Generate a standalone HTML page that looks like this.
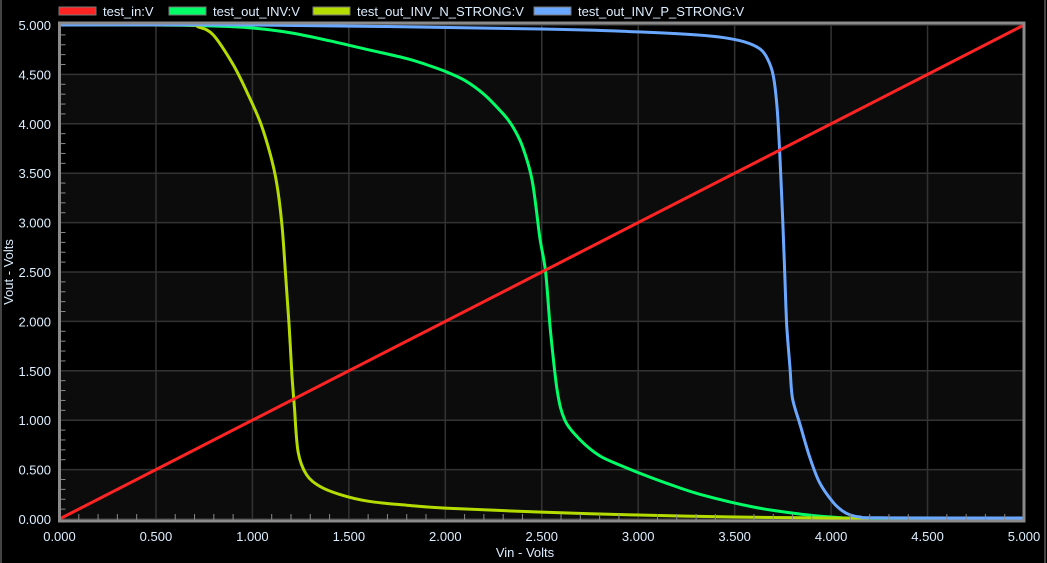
<!DOCTYPE html>
<html><head><meta charset="utf-8"><style>
html,body{margin:0;padding:0;background:#000;}
svg{display:block;font-family:"Liberation Sans",sans-serif;}
</style></head><body>
<svg id="chart" width="1047" height="563" xmlns="http://www.w3.org/2000/svg">
<rect x="0" y="0" width="1047" height="563" fill="#000"/>
<line x1="1" y1="0" x2="1" y2="563" stroke="#444" stroke-width="2"/>
<line x1="1045" y1="0" x2="1045" y2="563" stroke="#444" stroke-width="2"/>
<g id="bands"></g>
<g id="grid"></g>
<g id="series"></g>
<g id="axes"></g>
<g id="legend"></g>
<text x="13" y="272" fill="#dceeff" font-size="13" text-anchor="middle" transform="rotate(-90 13 272)">Vout - Volts</text>
<text x="525" y="557" fill="#dceeff" font-size="13" text-anchor="middle">Vin - Volts</text>
</svg>
<script>
const xTicks=["0.000","0.500","1.000","1.500","2.000","2.500","3.000","3.500","4.000","4.500","5.000"];
const yTicks=["0.000","0.500","1.000","1.500","2.000","2.500","3.000","3.500","4.000","4.500","5.000"];
const seriesNames=["test_in:V","test_out_INV:V","test_out_INV_N_STRONG:V","test_out_INV_P_STRONG:V"];
const seriesColors=["#ff2424","#00ff66","#b4dc00","#6aa8ff"];
const inX=[0,5];
const inY=[0,5];
const invX=[0,0.5,0.8,1.0,1.2,1.4,1.6,1.8,1.9,2.0,2.1,2.2,2.3,2.35,2.4,2.45,2.49,2.52,2.545,2.58,2.62,2.7,2.8,2.9,3.0,3.15,3.32,3.6,3.84,4.0,4.2,5];
const invY=[5,5,4.99,4.97,4.92,4.84,4.75,4.66,4.6,4.53,4.44,4.3,4.1,3.97,3.77,3.43,2.85,2.5,1.91,1.3,1.0,0.8,0.64,0.55,0.47,0.36,0.25,0.12,0.05,0.02,0.005,0];
const nX=[0,0.65,0.72,0.797,0.9,0.972,1.04,1.09,1.125,1.153,1.172,1.19,1.205,1.218,1.237,1.28,1.35,1.45,1.6,1.8,2.0,2.5,3.0,3.5,4.0,4.2];
const nY=[5,5,4.98,4.9,4.6,4.32,4.02,3.71,3.41,2.98,2.47,1.96,1.46,1.12,0.68,0.45,0.33,0.25,0.18,0.14,0.11,0.07,0.04,0.02,0.01,0.005];
const pX=[0,1.0,2.5,3.0,3.3,3.45,3.55,3.63,3.67,3.70,3.72,3.735,3.75,3.76,3.77,3.787,3.80,3.84,3.89,3.94,4.01,4.06,4.1,4.15,4.25,5];
const pY=[5,5,4.96,4.93,4.9,4.87,4.83,4.76,4.66,4.49,4.16,3.65,2.98,2.47,1.96,1.53,1.22,0.95,0.62,0.37,0.17,0.08,0.04,0.02,0.012,0.01];

const X0=59.5,X1=1024,Y0=519,Y1=25;
const sx=v=>X0+(X1-X0)*v/5;
const sy=v=>Y0-(Y0-Y1)*v/5;
const NS="http://www.w3.org/2000/svg";
function mk(tag,parent,attrs){const e=document.createElementNS(NS,tag);for(const k in attrs)e.setAttribute(k,attrs[k]);parent.appendChild(e);return e;}
function smoothPath(px,py){
  const n=px.length;
  if(n<3)return px.map((x,j)=>(j?'L':'M')+x.toFixed(1)+','+py[j].toFixed(1)).join(' ');
  let d='M'+px[0].toFixed(1)+','+py[0].toFixed(1);
  for(let i=0;i<n-1;i++){
    const p0=[px[Math.max(i-1,0)],py[Math.max(i-1,0)]],p1=[px[i],py[i]],p2=[px[i+1],py[i+1]],p3=[px[Math.min(i+2,n-1)],py[Math.min(i+2,n-1)]];
    const t=0.16;
    const c1=[p1[0]+(p2[0]-p0[0])*t,p1[1]+(p2[1]-p0[1])*t];
    const c2=[p2[0]-(p3[0]-p1[0])*t,p2[1]-(p3[1]-p1[1])*t];
    d+=' C'+c1[0].toFixed(1)+','+c1[1].toFixed(1)+' '+c2[0].toFixed(1)+','+c2[1].toFixed(1)+' '+p2[0].toFixed(1)+','+p2[1].toFixed(1);
  }
  return d;
}
const bands=document.getElementById('bands'),grid=document.getElementById('grid'),axes=document.getElementById('axes'),series=document.getElementById('series'),legend=document.getElementById('legend');
for(let i=0;i<10;i++){
  const r=mk('rect',bands,{x:sx(0),y:sy((i+1)*0.5),width:sx(5)-sx(0),height:sy(i*0.5)-sy((i+1)*0.5),fill:i%2===0?'#0c0c0c':'#000'});
  
  
}
xTicks.forEach((t,i)=>{
  const v=parseFloat(t);
  const l=mk('line',grid,{x1:sx(v),y1:sy(0),x2:sx(v),y2:sy(5),stroke:'#333',"stroke-width":1.5});
  
  
  const tx=mk('text',axes,{x:sx(v),y:541,fill:'#dceeff',"font-size":13,"text-anchor":"middle"});
  tx.textContent=t;
  
  
});
yTicks.forEach((t,i)=>{
  const v=parseFloat(t);
  const l=mk('line',grid,{x1:sx(0),y1:sy(v),x2:sx(5),y2:sy(v),stroke:'#333',"stroke-width":1.5});
  
  
  const tx=mk('text',axes,{x:51,y:sy(v)+5,fill:'#dceeff',"font-size":13,"text-anchor":"end"});
  tx.textContent=t;
  
  
});
for(let k=1;k<50;k++){
  if(k%5===0)continue;
  const v=k*0.1;
  const a=mk('line',axes,{x1:sx(v),y1:sy(0)+1,x2:sx(v),y2:sy(0)-5,stroke:'#888',"stroke-width":1});
  
  
  const b=mk('line',axes,{x1:sx(0),y1:sy(v),x2:sx(0)+6,y2:sy(v),stroke:'#888',"stroke-width":1});
  
  
}
const fr=mk('rect',axes,{x:sx(0),y:sy(5)-2,width:sx(5)-sx(0),height:sy(0)-sy(5)+4,fill:'none',stroke:'#8a8a8a',"stroke-width":3});


const data=[[inX,inY],[invX,invY],[nX,nY],[pX,pY]];
const order=[1,2,3,0];
order.forEach(i=>{
  const [xs,ys]=data[i];
  const d=smoothPath(xs.map(sx),ys.map(sy));
  const p=mk('path',series,{d:d,fill:'none',stroke:seriesColors[i],"stroke-width":3,"stroke-linejoin":"round"});
  
  
});
const legX=[59,169,313,534];
seriesNames.forEach((n,i)=>{
  const r=mk('rect',legend,{x:legX[i],y:7,width:37,height:8,fill:seriesColors[i],stroke:'#777',"stroke-width":1});
  
  
  const t=mk('text',legend,{x:legX[i]+44,y:16,fill:'#dceeff',"font-size":13});
  t.textContent=n;
  
  
});
</script>
</body></html>
